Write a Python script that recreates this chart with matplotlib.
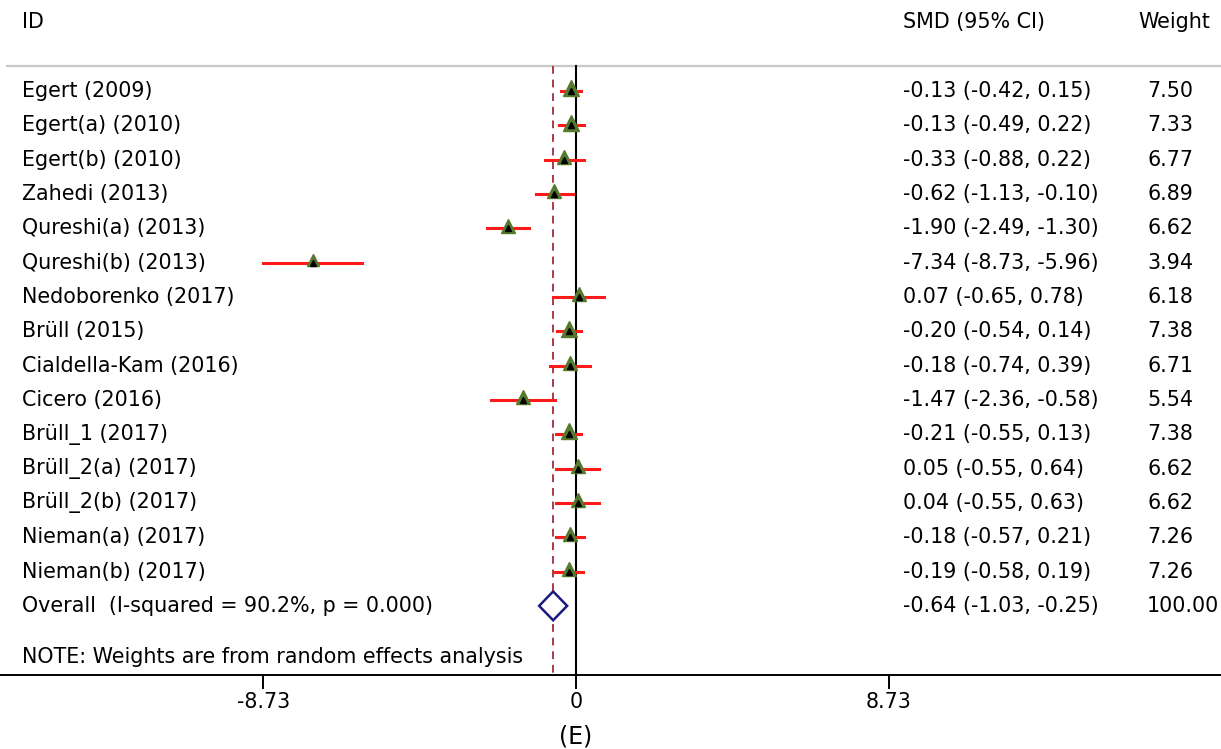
import numpy as np
import matplotlib
matplotlib.use("Agg")
import matplotlib.pyplot as plt

# data
studies = ["Egert (2009)", "Egert(a) (2010)", "Egert(b) (2010)", "Zahedi (2013)",
           "Qureshi(a) (2013)", "Qureshi(b) (2013)", "Nedoborenko (2017)", "Brüll (2015)",
           "Cialdella-Kam (2016)", "Cicero (2016)", "Brüll_1 (2017)", "Brüll_2(a) (2017)",
           "Brüll_2(b) (2017)", "Nieman(a) (2017)", "Nieman(b) (2017)"]
smd = [-0.13, -0.13, -0.33, -0.62, -1.90, -7.34, 0.07, -0.20, -0.18, -1.47, -0.21, 0.05, 0.04, -0.18, -0.19]
lo = [-0.42, -0.49, -0.88, -1.13, -2.49, -8.73, -0.65, -0.54, -0.74, -2.36, -0.55, -0.55, -0.55, -0.57, -0.58]
hi = [0.15, 0.22, 0.22, -0.10, -1.30, -5.96, 0.78, 0.14, 0.39, -0.58, 0.13, 0.64, 0.63, 0.21, 0.19]
weights = [7.50, 7.33, 6.77, 6.89, 6.62, 3.94, 6.18, 7.38, 6.71, 5.54, 7.38, 6.62, 6.62, 7.26, 7.26]
overall = (-0.64, -1.03, -0.25)
overall_label = "Overall  (I-squared = 90.2%, p = 0.000)"
note = "NOTE: Weights are from random effects analysis"
xticks = [-8.73, 0, 8.73]

plt.rcParams['font.family'] = ['DejaVu Sans']
fs = 14.9

fig = plt.figure(figsize=(12.21, 7.49), dpi=100)
ax = fig.add_axes([0, 0, 1, 1])
ax.set_xlim(-16.07, 17.99)
ax.set_ylim(19.17, -2.65)
ax.axis("off")

n = len(studies)
rows = np.arange(n)
x_id, x_smd, x_w = -15.45, 9.12, 15.93

# header
ax.text(x_id, -2.01, "ID", fontsize=fs, va="center", ha="left")
ax.text(x_smd, -2.01, "SMD (95% CI)", fontsize=fs, va="center", ha="left")
ax.text(15.68, -2.01, "Weight", fontsize=fs, va="center", ha="left")
ax.plot([-15.9, 17.99], [-0.73, -0.73], color="#c8c8c8", lw=1.6, solid_capstyle="butt")

# reference lines
ax.plot([0, 0], [-0.73, 17.01], color="black", lw=1.5)
ax.plot([overall[0], overall[0]], [-0.73, 17.01], color="#a83a4a", lw=1.4, ls=(0, (4, 3)))

# studies
for i in range(n):
    ax.plot([lo[i], hi[i]], [rows[i], rows[i]], color="#ff1a1a", lw=2.2, zorder=3)
    ms = 4.0 * np.sqrt(weights[i])
    ax.plot(smd[i], rows[i] - 0.08, marker="^", ms=ms, color="#557a2e", mec="#557a2e", zorder=4)
    ax.plot(smd[i], rows[i] + 0.0, marker="^", ms=5, color="black", zorder=5)
    ax.text(x_id, rows[i], studies[i], fontsize=fs, va="center", ha="left")
    ax.text(x_smd, rows[i], f"{smd[i]:.2f} ({lo[i]:.2f}, {hi[i]:.2f})", fontsize=fs, va="center", ha="left")
    ax.text(x_w, rows[i], f"{weights[i]:.2f}", fontsize=fs, va="center", ha="left")

# overall diamond
yo = n
ax.fill([overall[1], overall[0], overall[2], overall[0], overall[1]],
        [yo, yo - 0.42, yo, yo + 0.42, yo], facecolor="white", edgecolor="#1a1a80", lw=1.8, zorder=4)
ax.text(x_id, yo, overall_label, fontsize=fs, va="center", ha="left")
ax.text(x_smd, yo, f"{overall[0]:.2f} ({overall[1]:.2f}, {overall[2]:.2f})", fontsize=fs, va="center", ha="left")
ax.text(x_w, yo, "100.00", fontsize=fs, va="center", ha="left")

ax.text(x_id, 16.49, note, fontsize=fs, va="center", ha="left")

# bottom axis
ax.plot([-16.07, 17.99], [17.01, 17.01], color="black", lw=1.4)
for t in xticks:
    ax.plot([t, t], [17.01, 17.39], color="black", lw=1.4)
    ax.text(t, 17.8, f"{t:g}" if t == 0 else f"{t:.2f}", fontsize=fs, va="center", ha="center")
ax.text(0, 18.82, "(E)", fontsize=17, va="center", ha="center")

fig.savefig("out.png", dpi=100)
